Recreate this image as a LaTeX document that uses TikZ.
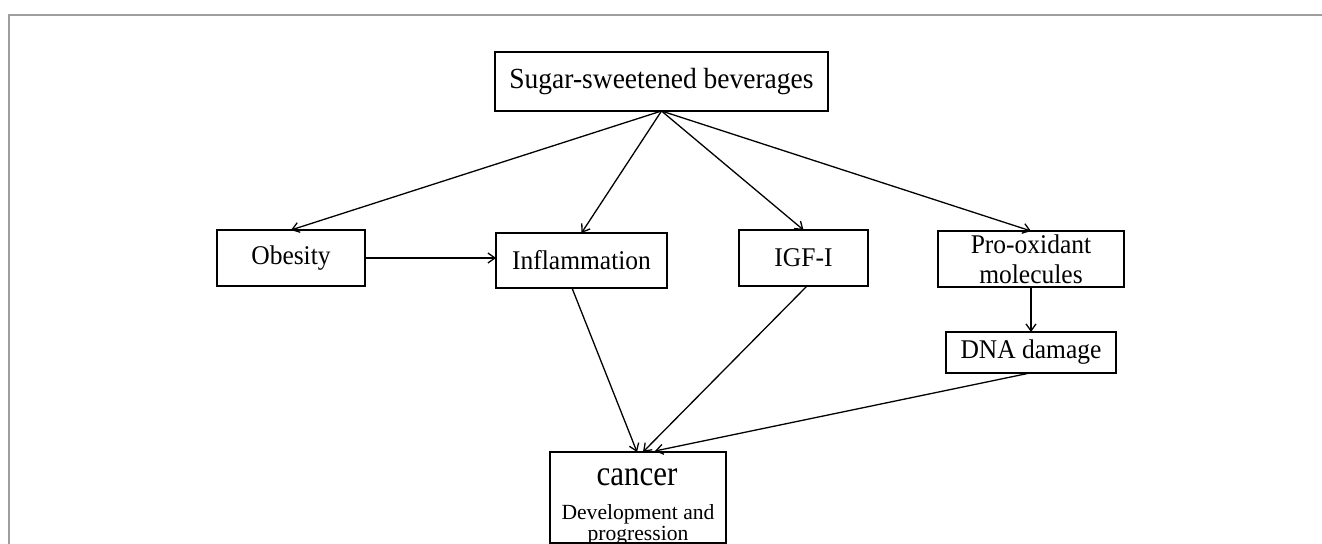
\documentclass[tikz,border=0pt]{standalone}
\usepackage{fontspec}
\usepackage{graphicx}
\setmainfont{Liberation Serif}
\usetikzlibrary{arrows.meta,calc}
\newcommand\vstretch[2][1.06]{\scalebox{1}[#1]{#2}}
\begin{document}
\begin{tikzpicture}[x=0.5pt,y=-0.5pt,
  box/.style={draw=black, line width=0.65pt, rectangle, inner sep=0pt, outer sep=0pt, align=center, font=\fontsize{12.75}{15}\selectfont},
  txt/.style={inner sep=0pt, outer sep=0pt, anchor=base},
  arr/.style={line width=0.65pt, -{Straight Barb[length=3.5pt,width=5pt]}},
  frame/.style={draw=black!38, line width=1pt}]
\useasboundingbox (0,0) rectangle (1322,544);
\draw[frame] (9,545) -- (9,15) -- (1323,15);
% boxes
\node[box, minimum width=166.5pt, minimum height=29.5pt, font=\fontsize{13.75}{15}\selectfont] (ssb) at (661.5,81.5) {\vstretch{Sugar-sweetened beverages}};
\node[box, minimum width=74pt, minimum height=28pt] (obes) at (291,258) {\vstretch{Obesity}};
\node[box, minimum width=85.5pt, minimum height=27.5pt] (infl) at (581.5,260.5) {\vstretch{Inflammation}};
\node[box, minimum width=64.5pt, minimum height=28pt] (igf) at (803.5,258) {\vstretch{IGF-I}};
\node[box, minimum width=93pt, minimum height=28pt] (prox) at (1031,259) {\vstretch{Pro-oxidant}\\\vstretch{molecules}};
\node[box, minimum width=85pt, minimum height=20.5pt] (dna) at (1031,352.5) {\vstretch{DNA damage}};
\node[box, minimum width=88pt, minimum height=45.5pt] (cancer) at (638,497.5) {};
\node[txt, font=\fontsize{15.5}{17}\selectfont] (ctitle) at (637,486) {\vstretch[1.15]{cancer}};
\node[txt, font=\fontsize{10.8}{12}\selectfont] (cdev) at (638,520) {Development and};
\node[txt, font=\fontsize{10.8}{12}\selectfont] (cprog) at (638,541) {progression};
% connectors
\draw[arr] (ssb.south) -- (obes.north);
\draw[arr] (ssb.south) -- (infl.north);
\draw[arr] (ssb.south) -- (igf.north);
\draw[arr] (ssb.south) -- (prox.north);
\draw[arr] (obes.east) -- (obes.east -| infl.west);
\draw[arr] (prox.south) -- (dna.north);
\draw[arr] ($(infl.south)+(-9.5,0)$) -- ($(cancer.north)+(-1,0)$);
\draw[arr] ($(igf.south)+(3.5,0)$) -- ($(cancer.north)+(5,0)$);
\draw[arr] ($(dna.south)+(-1,0)$) -- ($(cancer.north)+(17,-1)$);
\end{tikzpicture}
\end{document}
